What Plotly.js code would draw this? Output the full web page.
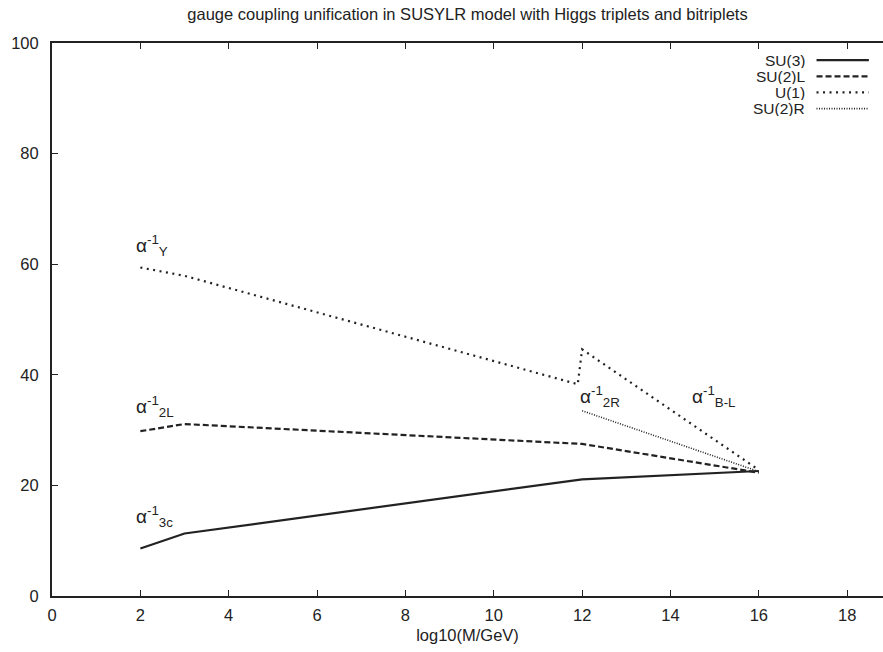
<!DOCTYPE html>
<html>
<head>
<meta charset="utf-8">
<script src="https://cdn.plot.ly/plotly-3.0.1.min.js"></script>
<style>html,body{margin:0;padding:0;background:#fff;}#chart{width:883px;height:652px;}</style>
</head>
<body>
<div id="chart"></div>
<script>
// Data
var su3X = [2, 3, 12, 16];
var su3Y = [8.6, 11.3, 21.1, 22.6];
var su2lX = [2, 3, 12, 16];
var su2lY = [29.8, 31.1, 27.5, 22.3];
var u1X = [2, 3, 11.9, 12, 16];
var u1Y = [59.4, 57.9, 38.3, 44.6, 22.8];
var su2rX = [12, 16];
var su2rY = [33.5, 22.5];

var seriesNames = ['SU(3)', 'SU(2)L', 'U(1)', 'SU(2)R'];
var labelTexts = ['α<sup>-1</sup><sub>Y</sub>', 'α<sup>-1</sup><sub>2L</sub>', 'α<sup>-1</sup><sub>3c</sub>', 'α<sup>-1</sup><sub>2R</sub>', 'α<sup>-1</sup><sub>B-L</sub>'];
var labelX = [1.85, 1.85, 1.85, 11.9, 14.45];
var labelY = [63.3, 34.3, 14.3, 36.1, 36.1];

var ink = '#222222';
var dashes = ['solid', '6px,3px', '2px,4.5px', '1px,1.5px'];
var widths = [2.2, 2.2, 2.2, 1.6];

var xs = [su3X, su2lX, u1X, su2rX];
var ys = [su3Y, su2lY, u1Y, su2rY];

var traces = xs.map(function (x, i) {
  return {
    x: x, y: ys[i], name: seriesNames[i], type: 'scatter', mode: 'lines',
    line: {color: ink, width: widths[i], dash: dashes[i]}, hoverinfo: 'skip'
  };
});

var font = 'Liberation Sans, Arial, Helvetica, sans-serif';

var annotations = labelTexts.map(function (t, i) {
  return {x: labelX[i], y: labelY[i], xref: 'x', yref: 'y', text: t, showarrow: false,
    xanchor: 'left', yanchor: 'middle', font: {family: font, size: 19, color: ink}};
});

// custom legend: text on the left, line sample on the right (gnuplot style)
var legY = [0.969, 0.9398, 0.9106, 0.8814];
var shapes = [];
seriesNames.forEach(function (n, i) {
  annotations.push({x: 0.907, y: legY[i], xref: 'paper', yref: 'paper', text: n, showarrow: false,
    xanchor: 'right', yanchor: 'middle', height: 15, borderpad: 0, valign: 'middle',
    font: {family: font, size: 15.5, color: ink}});
  shapes.push({type: 'line', xref: 'paper', yref: 'paper', x0: 0.920, x1: 0.983, y0: legY[i], y1: legY[i],
    line: {color: ink, width: widths[i], dash: dashes[i]}});
});

var layout = {
  width: 883, height: 652,
  margin: {l: 52, r: 0, t: 43, b: 56},
  paper_bgcolor: '#fff', plot_bgcolor: '#fff',
  showlegend: false,
  font: {family: font, color: ink},
  title: {text: 'gauge coupling unification in SUSYLR model with Higgs triplets and bitriplets',
    x: 0.5, xref: 'paper', y: 0.978, yanchor: 'middle', font: {family: font, size: 16.5, color: ink}},
  xaxis: {
    range: [0, 18.81], tickvals: [0, 2, 4, 6, 8, 10, 12, 14, 16, 18],
    ticks: 'inside', ticklen: 6, tickwidth: 1, tickcolor: ink,
    showline: true, linecolor: ink, linewidth: 2, mirror: 'ticks',
    showgrid: false, zeroline: false, ticklabelstandoff: 3,
    tickfont: {family: font, size: 16.5, color: ink},
    title: {text: 'log10(M/GeV)', font: {family: font, size: 16.5, color: ink}, standoff: 7}
  },
  yaxis: {
    range: [0, 100], tickvals: [0, 20, 40, 60, 80, 100],
    ticks: 'inside', ticklen: 6, tickwidth: 1, tickcolor: ink,
    showline: true, linecolor: ink, linewidth: 2, mirror: false,
    showgrid: false, zeroline: false, ticklabelstandoff: 8,
    tickfont: {family: font, size: 16.5, color: ink}
  },
  annotations: annotations,
  shapes: shapes
};

Plotly.newPlot('chart', traces, layout, {staticPlot: true, displayModeBar: false});
</script>
</body>
</html>
